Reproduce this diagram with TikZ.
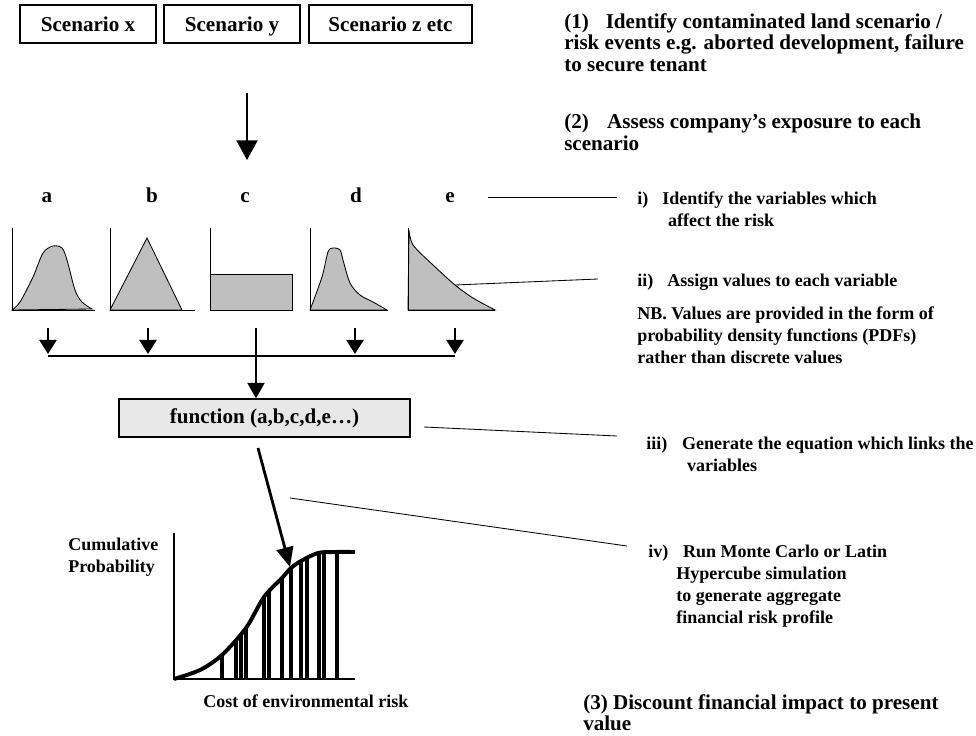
\documentclass[tikz,border=0pt]{standalone}
\usepackage{fontspec}
\setmainfont{Liberation Serif}
\usepackage{tikz}
\usetikzlibrary{arrows.meta}

\tikzset{
  big/.style={font=\fontsize{15}{15.5}\selectfont\bfseries,inner sep=0pt},
  small/.style={font=\fontsize{12.8}{15.5}\selectfont\bfseries,inner sep=0pt},
  scen/.style={draw,line width=0.8pt,minimum height=0.95cm,text height=12pt,text depth=2pt,font=\fontsize{15}{15.5}\selectfont\bfseries},
  dens/.style={fill=black!25,draw=black,line width=0.6pt},
  axis/.style={draw=black,line width=0.6pt},
  leader/.style={line width=0.6pt},
  shortarr/.style={line width=2pt,-{Triangle[width=12pt,length=10pt]}},
}

\begin{document}
\begin{tikzpicture}[x=0.025cm,y=-0.025cm]
\useasboundingbox (0,0) rectangle (976,736);

\node[scen,minimum width=3.4cm] (sx) at (88,24) {Scenario x};
\node[scen,minimum width=3.4cm] (sy) at (232,24) {Scenario y};
\node[scen,minimum width=4.075cm] (sz) at (390.5,24) {Scenario z etc};

\coordinate (down1) at (247,93);
\coordinate (down2) at (247,160);
\draw[line width=1.4pt,-{Triangle[width=15pt,length=14pt]}] (down1) -- (down2);

\node[big,anchor=base] (a) at (47,202) {a};
\node[big,anchor=base] (b) at (152,202) {b};
\node[big,anchor=base] (c) at (245,202) {c};
\node[big,anchor=base] (d) at (356,202) {d};
\node[big,anchor=base] (e) at (450,202) {e};

\filldraw[dens] plot[smooth] coordinates {(12,310) (20,302) (33,277) (43,253) (53,246) (62,248) (67,260) (75,290) (82,302) (92,309)} -- cycle;
\draw[axis] (12,228) -- (12,310) -- (95,310);
\filldraw[dens] (110,310) -- (147,238) -- (182,310) -- cycle;
\draw[axis] (110,228) -- (110,310) -- (195,310);
\filldraw[dens] (210,274) rectangle (292,310);
\draw[axis] (210,228) -- (210,310) -- (293,310);
\filldraw[dens] plot[smooth] coordinates {(310,310) (322,277) (328,252) (333,248) (340,250) (343,260) (350,283) (360,295) (373,302) (387,310)} -- cycle;
\draw[axis] (310,228) -- (310,310) -- (388,310);
\filldraw[dens] plot[smooth] coordinates {(409,230) (413,245) (433,265) (455,285) (473,298) (495,310)} -- (408,310) -- cycle;
\draw[axis] (408,228) -- (408,310) -- (495,310);

\coordinate (ta) at (48,328);
\coordinate (tb) at (148,328);
\coordinate (td) at (355,328);
\coordinate (te) at (455,328);
\coordinate (ha) at (48,354);
\coordinate (hb) at (148,354);
\coordinate (hd) at (355,354);
\coordinate (he) at (455,354);
\draw[shortarr] (ta) -- (ha);
\draw[shortarr] (tb) -- (hb);
\draw[shortarr] (td) -- (hd);
\draw[shortarr] (te) -- (he);
\draw[line width=2pt] (48,356) -- (455,356);

\node[draw,line width=1pt,fill=black!9,minimum width=7.275cm,minimum height=0.95cm,big] (fn) at (264.5,418) {function (a,b,c,d,e…)};
\coordinate (tc) at (256,328);
\draw[line width=2pt,-{Triangle[width=12pt,length=11pt]}] (tc) -- (tc |- fn.north);

\coordinate (fa) at (258,448);
\coordinate (fb) at (290,567);
\draw[line width=2pt,-{Triangle[width=12pt,length=14pt]}] (fa) -- (fb);

\draw[line width=2.2pt] (222,679) -- (222,655) (236,679) -- (236,641) (241,679) -- (241,634) (246,679) -- (246,628)
  (264,679) -- (264,597) (269,679) -- (269,591) (282,679) -- (282,578) (291,679) -- (291,568)
  (301,679) -- (301,561) (307,679) -- (307,558) (319,679) -- (319,554) (324,679) -- (324,553) (337,679) -- (337,553);
\draw[line width=2.8pt] plot[smooth] coordinates {(174,679) (200,670) (222,655) (246,628) (264,597) (282,578) (291,568) (301,561) (318,553) (335,552) (355,552)};
\draw[line width=2pt] (174,533) -- (174,679) -- (355,679);

\node[small,anchor=north west,align=left] (cum) at (68,538) {Cumulative\\Probability};
\node[small,anchor=north west] (cost) at (203,695) {Cost of environmental risk};

\node[big,anchor=north west,align=left] (s1) at (564,13) {(1)\hspace{12pt}Identify contaminated land scenario /\\risk events e.g. aborted development, failure\\to secure tenant};
\node[big,anchor=north west,align=left] (s2) at (564,114) {(2)\hspace{13pt}Assess company’s exposure to each\\scenario};
\node[small,anchor=north west,align=left] (v1) at (637,192) {i)\hspace{10pt}Identify the variables which\\\hspace*{22pt}affect the risk};
\node[small,anchor=north west] (v2) at (637,274) {ii)\hspace{10pt}Assign values to each variable};
\node[small,anchor=north west,align=left] (nb) at (637,307) {NB. Values are provided in the form of\\probability density functions (PDFs)\\rather than discrete values};
\node[small,anchor=north west,align=left] (v3) at (646,437) {iii)\hspace{10.5pt}Generate the equation which links the\\\hspace*{29pt}variables};
\node[small,anchor=north west,align=left] (v4) at (648,545) {iv)\hspace{10.5pt}Run Monte Carlo or Latin\\\hspace*{20pt}Hypercube simulation\\\hspace*{20pt}to generate aggregate\\\hspace*{20pt}financial risk profile};
\node[big,anchor=north west,align=left] (s3) at (583,694) {(3) Discount financial impact to present\\value};

\coordinate (l1a) at (488,197);
\coordinate (l1b) at (617,197);
\coordinate (l2a) at (455,285);
\coordinate (l2b) at (598,279);
\coordinate (l3a) at (424,427);
\coordinate (l3b) at (617,436);
\coordinate (l4a) at (290,498);
\coordinate (l4b) at (627,546);
\draw[leader] (l1a) -- (l1b);
\draw[leader] (l2a) -- (l2b);
\draw[leader] (l3a) -- (l3b);
\draw[leader] (l4a) -- (l4b);
\end{tikzpicture}
\end{document}
